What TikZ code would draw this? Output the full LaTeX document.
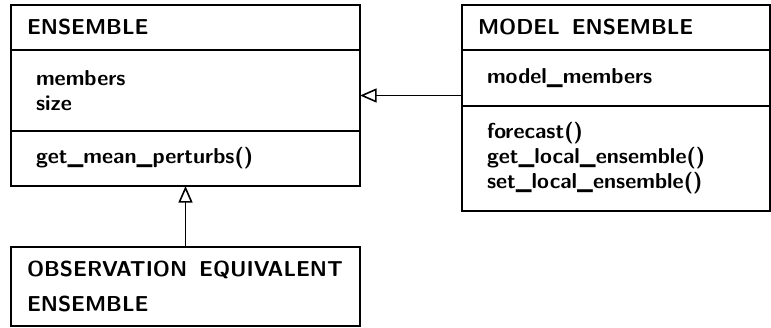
\documentclass[tikz,border=0pt]{standalone}
\usepackage{tikz}
\usetikzlibrary{arrows.meta,positioning,calc}
\tikzstyle{umlpart} = [rectangle, draw=black, line width=0.9pt, outer sep=0pt, inner ysep=0pt, align=left, font=\sffamily\bfseries\fontsize{10.8}{12.5}\selectfont]
\tikzstyle{umltitle} = [umlpart, inner xsep=8pt, minimum height=22.5pt]
\tikzstyle{umlbody} = [umlpart, inner xsep=12.5pt]
\tikzstyle{inherit} = [line width=0.8pt, -{Triangle[open, length=8.3pt, width=7pt]}]

\begin{document}
\begin{tikzpicture}
\useasboundingbox (0,0) rectangle (385.5pt,-163.5pt);

% Ensemble class
\node (enstitle) [umltitle, anchor=north west, text width=158.5pt] at (5.5pt,-2.5pt) {ENSEMBLE};
\node (ensattr) [umlbody, below=0pt of enstitle, text width=149.5pt, minimum height=40.5pt] {members\\size};
\node (ensmeth) [umlbody, below=0pt of ensattr, text width=149.5pt, minimum height=27.5pt] {get\_mean\_perturbs()};

% Model ensemble class
\node (modtitle) [umltitle, right=51pt of enstitle, text width=138pt] {MODEL\hspace{6pt}ENSEMBLE};
\node (modattr) [umlbody, below=0pt of modtitle, text width=129pt, minimum height=28pt] {model\_members};
\node (modmeth) [umlbody, below=0pt of modattr, text width=129pt, minimum height=52.5pt] {forecast()\\get\_local\_ensemble()\\set\_local\_ensemble()};

% Observation equivalent ensemble class
\node (obs) [umltitle, below=30.5pt of ensmeth, text width=158.5pt, minimum height=39.5pt] {OBSERVATION\hspace{6pt}EQUIVALENT\\[5pt]ENSEMBLE};

% Inheritance
\coordinate (enscentre) at ($(enstitle.north)!0.5!(ensmeth.south)$);
\draw[inherit] (modattr.west |- enscentre) -- (ensattr.east |- enscentre);
\draw[inherit] (obs.north) -- (ensmeth.south);
\end{tikzpicture}
\end{document}
